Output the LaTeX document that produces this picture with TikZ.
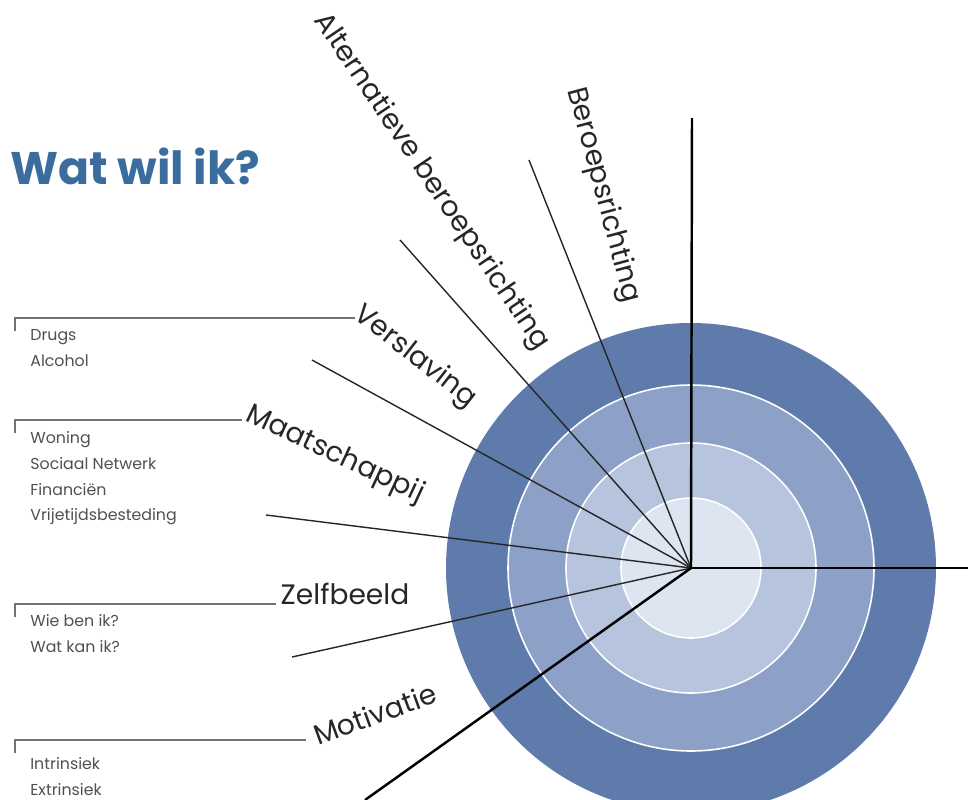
\documentclass[tikz,border=0pt]{standalone}
\usepackage{fontspec}
\setmainfont{Poppins}
\usetikzlibrary{positioning}

\definecolor{ringouter}{HTML}{5E7BAB}
\definecolor{ringtwo}{HTML}{8DA1C8}
\definecolor{ringthree}{HTML}{B6C4DD}
\definecolor{ringinner}{HTML}{DDE5F1}
\definecolor{titleblue}{HTML}{3A6D9D}
\definecolor{listgray}{HTML}{505050}

\tikzset{
    spoke/.style={draw=black!85, line width=0.8pt},
    heavyspoke/.style={draw=black, line width=1.4pt},
    bracket/.style={draw=black!55, line width=1.1pt},
    theme/.style={font=\fontsize{16}{18}\selectfont, text=black!85, inner sep=0pt},
    items/.style={font=\fontsize{9}{14.7}\selectfont, text=listgray, align=left,
                  anchor=north west, inner sep=0pt},
}

\begin{document}
\begin{tikzpicture}[x=0.02cm,y=-0.02cm]
    \useasboundingbox (0,0) rectangle (968,799);
    \clip (0,0) rectangle (968,799);

    % target rings
    \coordinate (hub) at (691,568);
    \fill[ringouter] (hub) circle (245);
    \foreach \r/\c in {183/ringtwo,125/ringthree,70/ringinner}
        \filldraw[fill=\c, draw=white, line width=0.9pt] (hub) circle (\r);

    % spokes
    \coordinate (beroep) at (529,160);
    \coordinate (alt) at (400,240);
    \coordinate (versl) at (312,360);
    \coordinate (maat) at (266,515);
    \coordinate (zelf) at (292,657);
    \coordinate (motiv) at (365,800);
    \coordinate (top) at (692,118);
    \coordinate (right) at (968,568);
    \foreach \p in {beroep,alt,versl,maat,zelf}
        \draw[spoke] (hub) -- (\p);
    \foreach \p in {motiv,top,right}
        \draw[heavyspoke] (hub) -- (\p);

    % title
    \node[font=\fontsize{26}{28}\bfseries\selectfont, text=titleblue, anchor=west,
          inner sep=0pt] (title) at (10,166) {Wat wil ik?};

    % theme labels
    \begin{scope}[every node/.style={theme}]
        \node[rotate=-75] (lberoep) at (603,195) {Beroepsrichting};
        \node[rotate=-56] (lalt) at (431,182) {Alternatieve beroepsrichting};
        \node[rotate=-38] (lversl) at (415,357) {Verslaving};
        \node[rotate=-25] (lmaat) at (335,455) {Maatschappij};
        \node (lzelf) at (345,594) {Zelfbeeld};
        \node[rotate=20] (lmotiv) at (375,714) {Motivatie};
    \end{scope}

    % brackets with lists
    \draw[bracket] (15,331) |- (355,318);
    \draw[bracket] (15,433) |- (242,420);
    \draw[bracket] (15,617) |- (276,604);
    \draw[bracket] (15,753) |- (306,740);

    \node[items] (drugs) at (30,329) {Drugs\\Alcohol};
    \node[items] (wonen) at (30,431) {Woning\\Sociaal Netwerk\\Financiën\\Vrijetijdsbesteding};
    \node[items] (wie) at (30,614) {Wie ben ik?\\Wat kan ik?};
    \node[items] (intr) at (30,757) {Intrinsiek\\Extrinsiek};
\end{tikzpicture}
\end{document}
